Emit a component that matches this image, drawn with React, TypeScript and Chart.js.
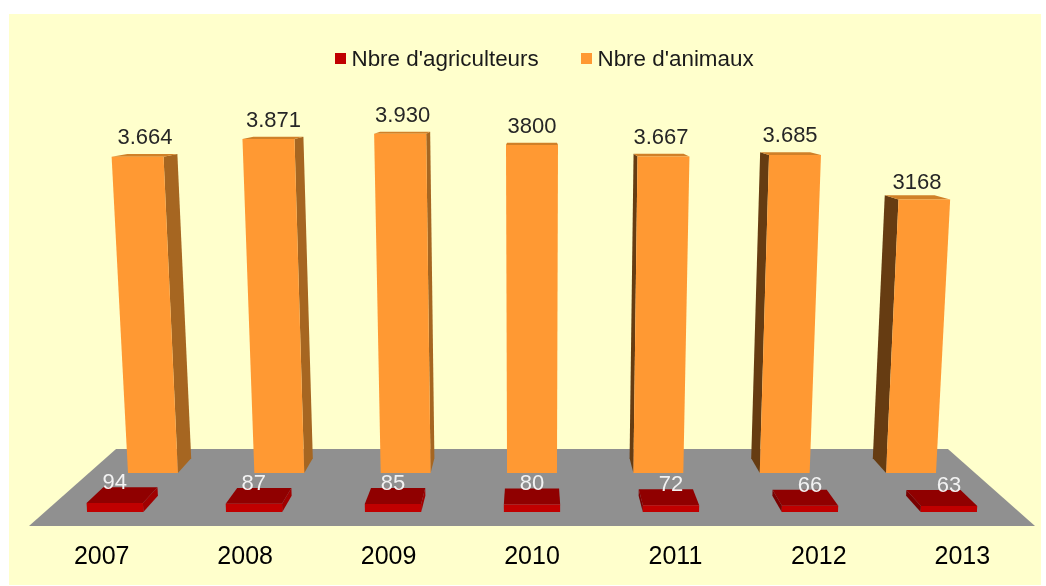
import React, { useEffect, useRef } from "react";
import { Chart, registerables } from "chart.js";

Chart.register(...registerables);

const categories = ["2007", "2008", "2009", "2010", "2011", "2012", "2013"];
const agriculteurs = [94, 87, 85, 80, 72, 66, 63];
const animaux = [3664, 3871, 3930, 3800, 3667, 3685, 3168];
const agriculteursLabels = ["94", "87", "85", "80", "72", "66", "63"];
const animauxLabels = ["3.664", "3.871", "3.930", "3800", "3.667", "3.685", "3168"];
const animauxLabelNudge = [0, 0, 0, 0, 0, 0, 4];

const FONT = '"Liberation Sans", Arial, sans-serif';
const VP_Y = 81; // horizon line of the floor's perspective
const DEPTH = 0.0375; // bar depth, as a fraction of the way to the vanishing point
const FLOOR_BACK_Y = 449;
const VERTICAL_CONVERGENCE = 7800;

const faces: any = {
  agriculteurs: { front: "#C00000", top: "#900000", right: "#A00000", left: "#7A0000", labels: agriculteursLabels },
  animaux: { front: "#FF9933", top: "#D08028", right: "#A66621", left: "#663C12", labels: animauxLabels },
};

function quad(ctx: CanvasRenderingContext2D, pts: number[][], color: string) {
  ctx.beginPath();
  ctx.moveTo(pts[0][0], pts[0][1]);
  for (let i = 1; i < pts.length; i++) ctx.lineTo(pts[i][0], pts[i][1]);
  ctx.closePath();
  ctx.fillStyle = color;
  ctx.fill();
}

// Projects a bar element laid out by the library's scales onto the perspective floor.
function projectBar(chart: any, el: any) {
  const { left, right, bottom } = chart.chartArea;
  const cx = (left + right) / 2;
  const k = (el.base - VP_Y) / (bottom - VP_Y);
  const h = el.base - el.y;
  const grow = 1 + h / VERTICAL_CONVERGENCE;
  const x0 = el.x - el.width / 2 - cx;
  const x1 = el.x + el.width / 2 - cx;
  const front = (x: number, top: boolean) => [cx + x * k * (top ? grow : 1), top ? el.y : el.base];
  const back = (p: number[]) => [p[0] + (cx - p[0]) * DEPTH, p[1] + (VP_Y - p[1]) * DEPTH];
  const fbl = front(x0, false);
  const fbr = front(x1, false);
  const ftl = front(x0, true);
  const ftr = front(x1, true);
  return { cx, fbl, fbr, ftl, ftr, bbl: back(fbl), bbr: back(fbr), btl: back(ftl), btr: back(ftr) };
}

const perspectivePlugin = {
  id: "perspective",
  beforeDraw(chart: any) {
    const { ctx, chartArea, width, height } = chart;
    ctx.save();
    ctx.fillStyle = "#FFFFFF";
    ctx.fillRect(0, 0, width, height);
    ctx.fillStyle = "#FFFFCC";
    ctx.fillRect(9, 14, 1032, 571);
    const cx = (chartArea.left + chartArea.right) / 2;
    const f = (FLOOR_BACK_Y - VP_Y) / (chartArea.bottom - VP_Y);
    const l = chartArea.left - 1;
    const r = chartArea.right + 1;
    quad(
      ctx,
      [
        [l, chartArea.bottom],
        [r, chartArea.bottom],
        [cx + (r - cx) * f, FLOOR_BACK_Y],
        [cx + (l - cx) * f, FLOOR_BACK_Y],
      ],
      "#909090"
    );
    // legend
    ctx.font = `22.4px ${FONT}`;
    ctx.textBaseline = "middle";
    ctx.textAlign = "left";
    const legendX = [335, 581];
    chart.data.datasets.forEach((ds: any, i: number) => {
      ctx.fillStyle = ds.backgroundColor;
      ctx.fillRect(legendX[i], 53, 11, 11);
      ctx.fillStyle = "#1A1A1A";
      ctx.fillText(ds.label, legendX[i] + 16.5, 59.5);
    });
    ctx.restore();
  },
  beforeDatasetDraw(chart: any, args: any) {
    const { ctx } = chart;
    const style = faces[chart.data.datasets[args.index].key];
    ctx.save();
    args.meta.data.forEach((el: any) => {
      const p = projectBar(chart, el);
      if (p.ftr[0] < p.cx) quad(ctx, [p.fbr, p.bbr, p.btr, p.ftr], style.right);
      if (p.ftl[0] > p.cx) quad(ctx, [p.fbl, p.bbl, p.btl, p.ftl], style.left);
      quad(ctx, [p.ftl, p.ftr, p.btr, p.btl], style.top);
      quad(ctx, [p.fbl, p.fbr, p.ftr, p.ftl], style.front);
    });
    ctx.restore();
    return false;
  },
  afterDatasetsDraw(chart: any) {
    const { ctx } = chart;
    ctx.save();
    ctx.font = `22px ${FONT}`;
    ctx.textAlign = "center";
    ctx.textBaseline = "middle";
    chart.data.datasets.forEach((ds: any, i: number) => {
      const style = faces[ds.key];
      chart.getDatasetMeta(i).data.forEach((el: any, j: number) => {
        const p = projectBar(chart, el);
        if (ds.key === "animaux") {
          ctx.fillStyle = "#262626";
          const x = (p.ftl[0] + p.ftr[0] + p.btl[0] + p.btr[0]) / 4;
          ctx.fillText(style.labels[j], x, p.btl[1] - 16 + animauxLabelNudge[j]);
        } else {
          ctx.fillStyle = "#F2F2F2";
          ctx.fillText(style.labels[j], (p.ftl[0] + p.ftr[0]) / 2, p.ftl[1] - 20);
        }
      });
    });
    ctx.restore();
  },
};

export default function App() {
  const ref = useRef<HTMLCanvasElement>(null);
  useEffect(() => {
    const chart = new Chart(ref.current as HTMLCanvasElement, {
      type: "bar",
      data: {
        labels: categories,
        datasets: [
          { key: "agriculteurs", label: "Nbre d'agriculteurs", data: agriculteurs, backgroundColor: "#C00000", yAxisID: "yFront", barPercentage: 0.405 },
          { key: "animaux", label: "Nbre d'animaux", data: animaux, backgroundColor: "#FF9933", yAxisID: "yBack", barPercentage: 0.395 },
        ] as any,
      },
      options: {
        animation: false,
        responsive: false,
        layout: { padding: { left: 30, right: 12, top: 86, bottom: 0 } },
        datasets: { bar: { grouped: false, categoryPercentage: 1 } },
        plugins: { legend: { display: false }, tooltip: { enabled: false } },
        scales: {
          x: {
            grid: { display: false },
            border: { display: false },
            ticks: { color: "#000000", padding: 8, maxRotation: 0, font: { family: FONT, size: 25 } },
            afterFit(scale: any) {
              scale.height = 60;
            },
          },
          yFront: { display: false, min: -147, max: 4485 },
          yBack: { display: false, min: -614, max: 4484 },
        },
      } as any,
      plugins: [perspectivePlugin],
    });
    return () => chart.destroy();
  }, []);
  return (
    <div style={{ position: "absolute", left: 0, top: 0, width: 1046, height: 586 }}>
      <canvas ref={ref} width={1046} height={586} style={{ display: "block" }} />
    </div>
  );
}
